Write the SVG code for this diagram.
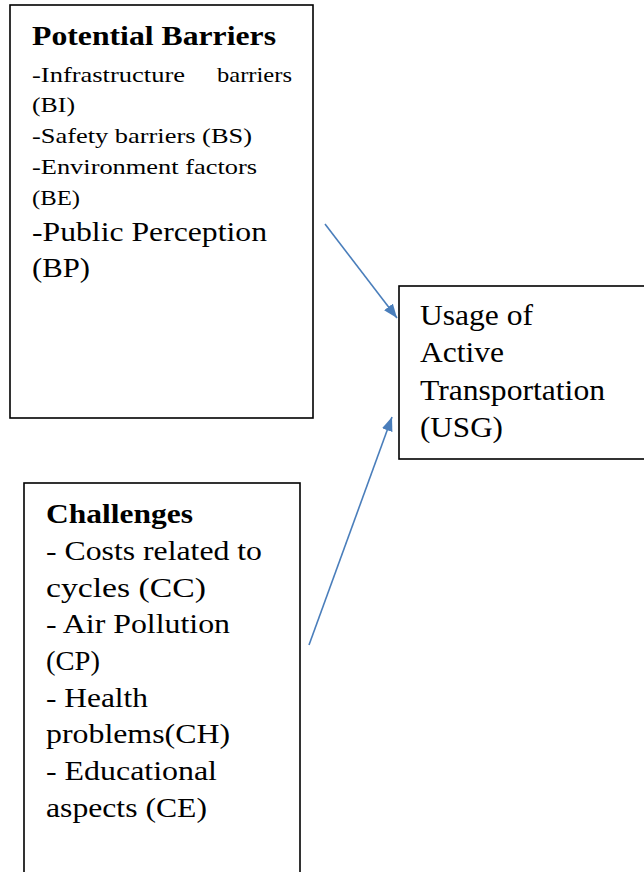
<svg xmlns="http://www.w3.org/2000/svg" width="644" height="872" viewBox="0 0 644 872">
<style>
.box{fill:#fff;stroke:#000;stroke-width:1.6}
.t{font-family:"Liberation Serif","Times New Roman",serif;fill:#000}
.b{font-weight:bold}
.conn{stroke:#4a7ebb;stroke-width:1.6;fill:none}
</style>
<defs>
<marker id="ah" viewBox="0 0 14 11" refX="14" refY="5.5" markerWidth="14" markerHeight="11" markerUnits="userSpaceOnUse" orient="auto">
<path d="M0,0 L14,5.5 L0,11 Z" fill="#4a7ebb"/>
</marker>
</defs>
<rect width="644" height="872" fill="#fff"/>
<g id="barriers">
<rect class="box" x="10" y="5" width="303" height="413"/>
<text class="t b" x="32" y="45" font-size="27" textLength="244" lengthAdjust="spacingAndGlyphs">Potential Barriers</text>
<text class="t" x="32" y="82" font-size="22" textLength="153" lengthAdjust="spacingAndGlyphs">-Infrastructure</text>
<text class="t" x="217" y="82" font-size="22" textLength="75" lengthAdjust="spacingAndGlyphs">barriers</text>
<text class="t" x="32" y="112" font-size="22" textLength="43" lengthAdjust="spacingAndGlyphs">(BI)</text>
<text class="t" x="32" y="143" font-size="22" textLength="220" lengthAdjust="spacingAndGlyphs">-Safety barriers (BS)</text>
<text class="t" x="32" y="174" font-size="22" textLength="225" lengthAdjust="spacingAndGlyphs">-Environment factors</text>
<text class="t" x="32" y="205" font-size="22" textLength="48" lengthAdjust="spacingAndGlyphs">(BE)</text>
<text class="t" x="32" y="241" font-size="28" textLength="235" lengthAdjust="spacingAndGlyphs">-Public Perception</text>
<text class="t" x="32" y="277" font-size="28" textLength="58" lengthAdjust="spacingAndGlyphs">(BP)</text>
</g>
<g id="usage">
<rect class="box" x="399" y="286" width="250" height="173"/>
<text class="t" x="420" y="325" font-size="29" textLength="113" lengthAdjust="spacingAndGlyphs">Usage of</text>
<text class="t" x="420" y="362" font-size="29" textLength="84" lengthAdjust="spacingAndGlyphs">Active</text>
<text class="t" x="420" y="400" font-size="29" textLength="185" lengthAdjust="spacingAndGlyphs">Transportation</text>
<text class="t" x="420" y="437" font-size="29" textLength="83" lengthAdjust="spacingAndGlyphs">(USG)</text>
</g>
<g id="challenges">
<rect class="box" x="24" y="483" width="276" height="400"/>
<text class="t b" x="46" y="523" font-size="28" textLength="147" lengthAdjust="spacingAndGlyphs">Challenges</text>
<text class="t" x="46" y="560" font-size="28" textLength="216" lengthAdjust="spacingAndGlyphs">- Costs related to</text>
<text class="t" x="46" y="597" font-size="28" textLength="160" lengthAdjust="spacingAndGlyphs">cycles (CC)</text>
<text class="t" x="46" y="633" font-size="28" textLength="184" lengthAdjust="spacingAndGlyphs">- Air Pollution</text>
<text class="t" x="46" y="670" font-size="28" textLength="54" lengthAdjust="spacingAndGlyphs">(CP)</text>
<text class="t" x="46" y="707" font-size="28" textLength="102" lengthAdjust="spacingAndGlyphs">- Health</text>
<text class="t" x="46" y="743" font-size="28" textLength="184" lengthAdjust="spacingAndGlyphs">problems(CH)</text>
<text class="t" x="46" y="780" font-size="28" textLength="171" lengthAdjust="spacingAndGlyphs">- Educational</text>
<text class="t" x="46" y="817" font-size="28" textLength="161" lengthAdjust="spacingAndGlyphs">aspects (CE)</text>
</g>
<g id="connectors">
<line class="conn" x1="325" y1="224" x2="397" y2="318" marker-end="url(#ah)"/>
<line class="conn" x1="309" y1="645" x2="392" y2="417" marker-end="url(#ah)"/>
</g>
</svg>
